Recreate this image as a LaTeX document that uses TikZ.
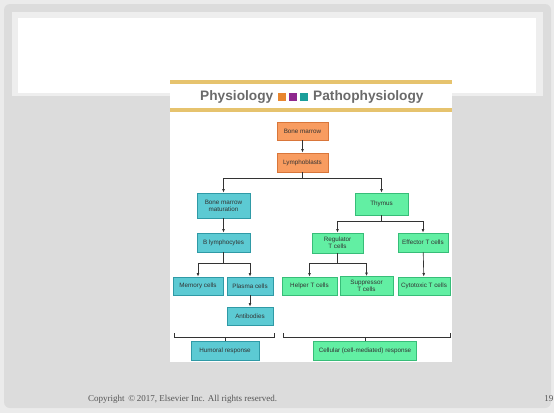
\documentclass[tikz,border=0pt]{standalone}
\usepackage{fontspec}
\setmainfont{Liberation Serif}
\setsansfont{Liberation Sans}
\usetikzlibrary{arrows.meta}
\definecolor{bgout}{HTML}{EBEBEB}
\definecolor{bggray}{HTML}{DCDCDC}
\definecolor{frame}{HTML}{EEEEEE}
\definecolor{gold}{HTML}{E6C36E}
\definecolor{titlegray}{HTML}{6A6A6A}
\definecolor{sqorange}{HTML}{E8862E}
\definecolor{sqpurple}{HTML}{8F288E}
\definecolor{sqteal}{HTML}{1A9E9A}
\definecolor{orfill}{HTML}{F89C60}
\definecolor{ordraw}{HTML}{D9763A}
\definecolor{tefill}{HTML}{5CCAD3}
\definecolor{tedraw}{HTML}{2F9AA6}
\definecolor{grfill}{HTML}{62EFA3}
\definecolor{grdraw}{HTML}{37BD78}
\definecolor{linec}{HTML}{333333}
\definecolor{copyc}{HTML}{555555}
\tikzset{
  box/.style={rectangle, draw, line width=0.8pt, inner sep=0pt, align=center,
    font=\sffamily\fontsize{6.3}{6.9}\selectfont, text=linec},
  orbox/.style={box, fill=orfill, draw=ordraw},
  tebox/.style={box, fill=tefill, draw=tedraw},
  grbox/.style={box, fill=grfill, draw=grdraw},
  conn/.style={draw=linec, line width=0.65pt},
  arr/.style={conn, -{Latex[length=3.5pt,width=2.8pt]}},
  titletxt/.style={font=\sffamily\bfseries\fontsize{13.7}{14}\selectfont, text=titlegray, inner sep=0pt},
  sq/.style={rectangle, minimum width=7.5pt, minimum height=7.5pt, inner sep=0pt},
  copytxt/.style={font=\rmfamily\fontsize{9}{10}\selectfont, text=copyc, inner sep=0pt}
}
\begin{document}
\begin{tikzpicture}[x=1pt,y=-1pt]
\useasboundingbox (0,0) rectangle (554,413);
% background
\fill[bgout] (0,0) rectangle (554,413);
\fill[bggray, rounded corners=6pt] (4,4) rectangle (551,408);
\fill[frame] (12,12) rectangle (543,96);
\fill[white] (18,18) rectangle (536,93);
% panel
\fill[white] (170,80) rectangle (452,362);
\fill[gold] (170,80) rectangle (452,83.5);
\fill[gold] (170,108) rectangle (452,112);
\node[titletxt, anchor=east] (t1) at (273.5,97) {Physiology};
\node[sq, fill=sqorange] (s1) at (282,97) {};
\node[sq, fill=sqpurple] (s2) at (293,97) {};
\node[sq, fill=sqteal] (s3) at (304,97) {};
\node[titletxt, anchor=west] (t2) at (313,97) {Pathophysiology};
% nodes
\node[orbox, minimum width=51pt, minimum height=18pt] (bm) at (302.5,131) {Bone marrow};
\node[orbox, minimum width=51pt, minimum height=19pt] (lb) at (302.5,162.5) {Lymphoblasts};
\node[tebox, minimum width=53pt, minimum height=25pt] (bmm) at (223.5,205.5) {Bone marrow\\maturation};
\node[grbox, minimum width=53pt, minimum height=22pt] (thy) at (381.5,204) {Thymus};
\node[tebox, minimum width=53pt, minimum height=19pt] (bl) at (223.5,242.5) {B lymphocytes};
\node[grbox, minimum width=51pt, minimum height=20pt] (reg) at (337.5,243) {Regulator\\T  cells};
\node[grbox, minimum width=50pt, minimum height=19pt] (eff) at (423,242.5) {Effector T  cells};
\node[tebox, minimum width=50pt, minimum height=18pt] (mem) at (198,286) {Memory cells};
\node[tebox, minimum width=46pt, minimum height=18pt] (pla) at (250,286) {Plasma cells};
\node[tebox, minimum width=46pt, minimum height=18pt] (ab) at (250,316) {Antibodies};
\node[grbox, minimum width=55pt, minimum height=18pt] (help) at (309.5,286) {Helper T cells};
\node[grbox, minimum width=53pt, minimum height=19pt] (sup) at (366.5,286) {Suppressor\\T cells};
\node[grbox, minimum width=52pt, minimum height=18pt] (cyt) at (424,286) {Cytotoxic T cells};
\node[tebox, minimum width=68pt, minimum height=19pt] (hum) at (225,350.5) {Humoral response};
\node[grbox, minimum width=103pt, minimum height=19pt] (cel) at (365,350.5) {Cellular (cell-mediated) response};
% junctions
\coordinate (j1) at (302.5,178);
\coordinate (j2) at (381.5,221);
\coordinate (j3) at (223.5,263);
\coordinate (j4) at (337.5,263);
\coordinate (bl1) at (174,333);
\coordinate (bl2) at (274,333);
\coordinate (bc1) at (225,337);
\coordinate (br1) at (283,333);
\coordinate (br2) at (450,333);
\coordinate (bc2) at (365,337);
% connectors
\draw[arr] (bm) -- (lb);
\draw[conn] (lb) -- (j1);
\draw[arr] (j1) -| (bmm);
\draw[arr] (j1) -| (thy);
\draw[arr] (bmm) -- (bl);
\draw[conn] (thy) -- (j2);
\draw[arr] (j2) -| (reg);
\draw[arr] (j2) -| (eff);
\draw[conn] (bl) -- (j3);
\draw[arr] (j3) -| (mem);
\draw[arr] (j3) -| (pla);
\draw[arr] (pla) -- (ab);
\draw[conn] (reg) -- (j4);
\draw[arr] (j4) -| (help);
\draw[arr] (j4) -| (sup);
\draw[arr] (eff) -- (cyt);
% brackets
\draw[conn] (bl1) -- ++(0,4) -| (bl2);
\draw[conn] (bc1) -- (hum);
\draw[conn] (br1) -- ++(0,4) -| (br2);
\draw[conn] (bc2) -- (cel);
% footer
\node[copytxt, anchor=west] (cp) at (88,399) {Copyright \,©\,2017, Elsevier Inc. All rights reserved.};
\node[copytxt, anchor=east] (pg) at (553.5,399) {19};
\end{tikzpicture}
\end{document}
